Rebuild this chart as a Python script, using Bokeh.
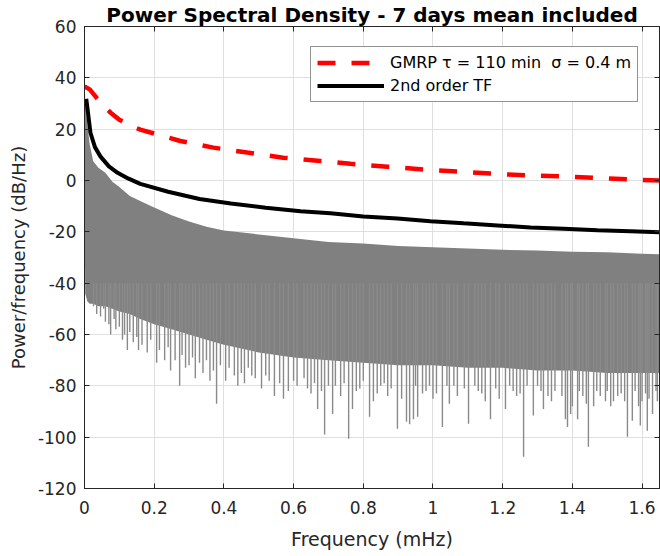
import numpy as np
from bokeh.plotting import figure
from bokeh.models import (Range1d, LinearAxis, Legend, LegendItem, ColumnDataSource,
                          FixedTicker)
from bokeh.embed import file_html
from bokeh.resources import INLINE

# ---------------- data ----------------
X_TICKS = [0, 0.2, 0.4, 0.6, 0.8, 1.0, 1.2, 1.4, 1.6]
Y_TICKS = [-120, -100, -80, -60, -40, -20, 0, 20, 40, 60]

# GMRP model PSD (red dashed)
RED_F = [0, 0.015, 0.036, 0.055, 0.075, 0.1, 0.13, 0.16, 0.21, 0.275, 0.37, 0.467,
         0.57, 0.677, 0.763, 0.87, 0.973, 1.07, 1.165, 1.27, 1.365, 1.46, 1.567, 1.65]
RED_DB = [36.6, 35.5, 32.0, 29.0, 26.4, 23.7, 21.5, 19.8, 17.9, 15.4, 12.8, 10.9,
          8.9, 7.6, 6.5, 5.4, 4.3, 3.5, 2.7, 2.0, 1.6, 1.1, 0.4, 0.0]

# 2nd order transfer function PSD (black)
BLK_F = [0.005, 0.009, 0.017, 0.03, 0.046, 0.07, 0.095, 0.125, 0.16, 0.24, 0.33, 0.42,
         0.52, 0.62, 0.706, 0.8, 0.898, 0.993, 1.088, 1.185, 1.28, 1.375, 1.472, 1.567, 1.65]
BLK_DB = [31.8, 27.6, 18.6, 13.0, 9.3, 5.5, 3.0, 0.8, -1.3, -4.4, -7.2, -9.0,
          -10.6, -12.0, -12.8, -14.0, -14.8, -15.9, -16.7, -17.5, -18.3, -18.8, -19.4, -19.8, -20.2]

# Periodogram (grey): upper and lower edge of the dense band
ENV_F = [0, 0.002, 0.008, 0.015, 0.025, 0.04, 0.06, 0.08, 0.1, 0.13, 0.16, 0.2, 0.25,
         0.3, 0.35, 0.4, 0.5, 0.6, 0.7, 0.8, 0.9, 1.0, 1.1, 1.2, 1.3, 1.4, 1.5, 1.6, 1.65]
ENV_UP = [44, 32, 22, 14, 7.5, 5, 3, -0.5, -2.5, -6, -8, -10.5, -13.5,
          -16, -18, -19.5, -21, -22.5, -24, -24.5, -25.5, -26, -26.5, -27, -27.3, -27.8, -28, -28.5, -28.7]
ENV_LO = [0, -44, -47, -48, -48, -49, -49, -50, -51, -52, -54, -56, -58,
          -60, -62, -64, -67, -69, -70, -71, -72, -72, -73, -73, -74, -74, -75, -75, -75]

# Periodogram: downward spikes below the band (frequency, depth)
SPIKE_F = [0.026, 0.035, 0.046, 0.055, 0.06, 0.07, 0.075, 0.085, 0.09, 0.1, 0.109, 0.115,
           0.123, 0.13, 0.14, 0.15, 0.155, 0.165, 0.18, 0.19, 0.207, 0.215, 0.23, 0.24,
           0.247, 0.26, 0.273, 0.28, 0.29, 0.3, 0.31, 0.318, 0.33, 0.34, 0.35, 0.36,
           0.37, 0.379, 0.39, 0.405, 0.415, 0.43, 0.44, 0.45, 0.459, 0.47, 0.48, 0.49,
           0.508, 0.52, 0.53, 0.545, 0.56, 0.571, 0.585, 0.6, 0.61, 0.63, 0.64, 0.65,
           0.66, 0.669, 0.68, 0.689, 0.7, 0.712, 0.72, 0.735, 0.745, 0.758, 0.769, 0.78,
           0.79, 0.8, 0.818, 0.829, 0.84, 0.85, 0.86, 0.87, 0.88, 0.898, 0.91, 0.924,
           0.933, 0.944, 0.95, 0.956, 0.97, 0.98, 0.99, 1.0, 1.01, 1.027, 1.04, 1.047,
           1.06, 1.07, 1.09, 1.102, 1.12, 1.13, 1.14, 1.15, 1.165, 1.18, 1.19, 1.208,
           1.22, 1.23, 1.24, 1.25, 1.26, 1.27, 1.288, 1.3, 1.31, 1.317, 1.33, 1.34,
           1.35, 1.37, 1.38, 1.386, 1.395, 1.4, 1.415, 1.42, 1.43, 1.44, 1.446, 1.461,
           1.47, 1.48, 1.495, 1.5, 1.51, 1.518, 1.53, 1.54, 1.55, 1.558, 1.572, 1.58,
           1.59, 1.595, 1.6, 1.61, 1.615, 1.62, 1.63, 1.64, 1.644]
SPIKE_DB = [-49, -52, -53, -50, -55, -56, -60, -54, -58, -57, -62, -60,
            -66, -59, -63, -61, -66, -64, -67, -62, -71, -66, -70, -65,
            -74, -70, -80, -68, -73, -72, -69, -77, -71, -75, -70, -78,
            -74, -87, -72, -78, -73, -76, -80, -75, -79, -73, -76, -77,
            -81, -76, -78, -84, -79, -85, -82, -78, -80, -77, -81, -83,
            -79, -89, -82, -99, -80, -91, -80, -84, -79, -100.6, -89, -82,
            -81, -78, -92, -86, -83, -80, -79, -84, -81, -96.7, -85, -94,
            -95, -93, -80, -92, -83, -82, -80, -85, -83, -96, -80, -87,
            -80, -84, -81, -94.8, -80, -82, -83, -86, -93, -81, -85, -89,
            -80, -82, -84, -83, -107.6, -80, -91.6, -80, -82, -89, -84, -86,
            -82, -84, -93, -96, -91, -88, -93, -82, -84, -87, -103.7, -88,
            -82, -84, -86, -82, -88, -86, -84, -83, -86, -99.8, -93.6, -82,
            -88, -95.5, -86, -83, -97.5, -85, -91, -82, -86]
SPIKE_TOP = -40  # spikes start inside the band

TITLE = "Power Spectral Density - 7 days mean included"
XLABEL = "Frequency (mHz)"
YLABEL = "Power/frequency (dB/Hz)"
LEG_RED = "GMRP \u03c4 = 110 min  \u03c3 = 0.4 m"
LEG_BLK = "2nd order TF"

# ---------------- figure ----------------
FONT = "DejaVu Sans"
AX = "#262626"

p = figure(width=660, height=552, output_backend="svg", toolbar_location=None,
           x_range=Range1d(0, 1.65), y_range=Range1d(-120, 60),
           min_border_left=84, min_border_right=1, min_border_top=26, min_border_bottom=64,
           title=TITLE)
p.title.text_font = FONT
p.title.text_font_size = "20px"
p.title.text_font_style = "bold"
p.title.text_color = "#000000"
p.title.align = "center"
p.title.standoff = 0
p.title.offset = 0

p.outline_line_color = AX
p.outline_line_width = 1
p.background_fill_color = "white"
p.border_fill_color = "white"

for ax in (p.xaxis[0], p.yaxis[0]):
    ax.axis_line_color = AX
    ax.major_tick_line_color = AX
    ax.major_tick_in = 5
    ax.major_tick_out = 0
    ax.minor_tick_line_color = None
    ax.major_label_text_font = FONT
    ax.major_label_text_font_size = "17px"
    ax.major_label_text_color = AX
    ax.axis_label_text_font = FONT
    ax.axis_label_text_font_style = "normal"
    ax.axis_label_text_color = AX

p.xaxis[0].axis_label_text_font_size = "19px"
p.yaxis[0].axis_label_text_font_size = "18px"
p.xaxis[0].ticker = FixedTicker(ticks=X_TICKS)
p.yaxis[0].ticker = FixedTicker(ticks=Y_TICKS)
p.xaxis[0].major_label_overrides = {t: f"{t:g}" for t in X_TICKS}
p.yaxis[0].major_label_overrides = {t: f"{t:g}" for t in Y_TICKS}
p.xaxis[0].axis_label = XLABEL
p.yaxis[0].axis_label = YLABEL
p.xaxis[0].major_label_standoff = 12
p.xaxis[0].axis_label_standoff = 11
p.yaxis[0].major_label_standoff = 8
p.yaxis[0].axis_label_standoff = 6

# box ticks on top and right (no labels)
top_ax = LinearAxis(ticker=FixedTicker(ticks=X_TICKS), major_label_text_font_size="0px",
                    major_label_text_color=None,
                    major_tick_in=5, major_tick_out=0, major_label_standoff=0,
                    axis_line_color=AX, major_tick_line_color=AX, minor_tick_line_color=None)
right_ax = LinearAxis(ticker=FixedTicker(ticks=Y_TICKS), major_label_text_font_size="0px",
                      major_label_text_color=None,
                      major_tick_in=5, major_tick_out=0, major_label_standoff=0,
                      axis_line_color=AX, major_tick_line_color=AX, minor_tick_line_color=None)
p.add_layout(top_ax, "above")
p.add_layout(right_ax, "right")

p.xgrid.ticker = FixedTicker(ticks=X_TICKS)
p.ygrid.ticker = FixedTicker(ticks=Y_TICKS)
for g in (p.xgrid[0], p.ygrid[0]):
    g.grid_line_color = "#dfdfdf"
    g.grid_line_width = 1

# ---------------- glyphs ----------------
GREY = "#808080"
p.varea(x=ENV_F, y1=ENV_UP, y2=ENV_LO, fill_color=GREY)
spikes = ColumnDataSource(dict(f=SPIKE_F, bottom=SPIKE_DB, top=[SPIKE_TOP] * len(SPIKE_F)))
p.segment(x0="f", y0="top", x1="f", y1="bottom", source=spikes,
          line_color="#8a8a8a", line_width=1.4)

r_red = p.line(RED_F, RED_DB, line_color="#ff0000", line_width=4.5, line_dash="18 16")
r_blk = p.line(BLK_F, BLK_DB, line_color="#000000", line_width=4)

legend = Legend(items=[LegendItem(label=LEG_RED, renderers=[r_red]),
                       LegendItem(label=LEG_BLK, renderers=[r_blk])],
                location=(226, 386))
legend.label_text_font = FONT
legend.label_text_font_size = "16px"
legend.label_text_color = "#000000"
legend.glyph_width = 67
legend.glyph_height = 19
legend.label_height = 19
legend.label_standoff = 6
legend.spacing = 4
legend.padding = 6
legend.margin = 0
legend.border_line_color = AX
legend.border_line_width = 1
legend.background_fill_color = "white"
legend.background_fill_alpha = 1
p.add_layout(legend, "center")

open("out.html", "w").write(file_html(p, INLINE))
